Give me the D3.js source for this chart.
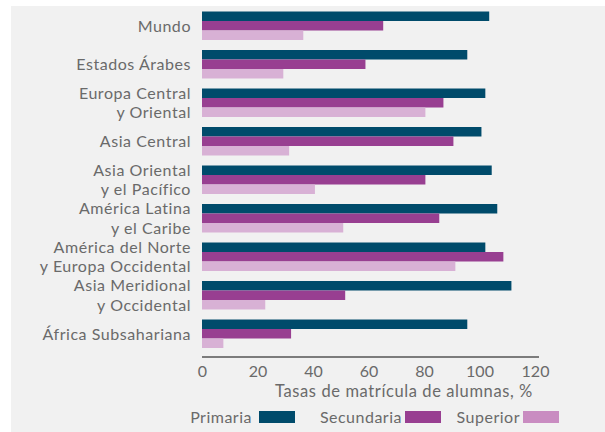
<!DOCTYPE html>
<html>
<head>
<meta charset="utf-8">
<script src="https://cdn.jsdelivr.net/npm/d3@7"></script>
<style>
  body { margin: 0; background: #fff; }
  text { font-family: Lato, "Open Sans", sans-serif; fill: #6a6a6a; }
</style>
</head>
<body>
<div id="chart"></div>
<script>
// regions, top to bottom (each label may wrap in two lines)
var regions = [
  ["Mundo"],
  ["Estados Árabes"],
  ["Europa Central", "y Oriental"],
  ["Asia Central"],
  ["Asia Oriental", "y el Pacífico"],
  ["América Latina", "y el Caribe"],
  ["América del Norte", "y Europa Occidental"],
  ["Asia Meridional", "y Occidental"],
  ["África Subsahariana"]
];
var primaria   = [103.5, 95.6, 102.1, 100.7, 104.4, 106.4, 102.1, 111.5, 95.6];
var secundaria = [65.3, 58.9, 87.0, 90.6, 80.5, 85.5, 108.6, 51.6, 32.1];
var superior   = [36.5, 29.3, 80.5, 31.4, 40.7, 50.9, 91.3, 22.8, 7.7];
var seriesNames = ["Primaria", "Secundaria", "Superior"];
var xTicks = [0, 20, 40, 60, 80, 100, 120];

var W = 605, H = 432;
var barColors = ["#004b6b", "#983f91", "#d8b1d5"];
var legendColors = ["#004b6b", "#983f91", "#c98cc1"];

var svg = d3.select("#chart").append("svg")
    .attr("width", W)
    .attr("height", H);

// grey panel
svg.append("rect")
    .attr("x", 11).attr("y", 6)
    .attr("width", W - 11).attr("height", H - 6)
    .attr("fill", "#f1f1f1");

var x = d3.scaleLinear().domain([0, 120]).range([202, 535]);
var y = d3.scaleBand()
    .domain(d3.range(regions.length))
    .range([6.5, 353])
    .paddingInner(0.26)
    .paddingOuter(0.13);
var ySub = d3.scaleBand()
    .domain(d3.range(3))
    .range([0, y.bandwidth()]);

var rows = regions.map(function(r, i) {
  return { label: r, vals: [primaria[i], secundaria[i], superior[i]] };
});

var g = svg.selectAll(".grp").data(rows).enter().append("g")
    .attr("class", "grp")
    .attr("transform", function(d, i) { return "translate(0," + y(i) + ")"; });

g.selectAll("rect").data(function(d) { return d.vals; }).enter().append("rect")
    .attr("x", x(0))
    .attr("y", function(d, j) { return ySub(j); })
    .attr("width", function(d) { return x(d) - x(0); })
    .attr("height", ySub.bandwidth())
    .attr("fill", function(d, j) { return barColors[j]; });

// category labels, one text per line
var lineH = 19.4;
g.each(function(d) {
  var grp = d3.select(this), n = d.label.length;
  d.label.forEach(function(line, k) {
    grp.append("text")
      .attr("text-anchor", "end")
      .attr("font-size", 16)
      .attr("letter-spacing", 0.55)
      .attr("x", 191)
      .attr("y", y.bandwidth() / 2 + (k - (n - 1) / 2) * lineH)
      .attr("dy", "0.36em")
      .text(line);
  });
});

// x axis
var axis = svg.append("g")
    .attr("transform", "translate(0,357)")
    .call(d3.axisBottom(x).tickValues(xTicks).tickSize(0).tickPadding(8.5));
axis.select(".domain").remove();
axis.selectAll("text")
    .attr("font-size", 16)
    .style("font-family", "Lato, sans-serif")
    .attr("fill", "#6a6a6a");
axis.append("line")
    .attr("x1", x(0)).attr("x2", x(120) + 4)
    .attr("stroke", "#555").attr("stroke-width", 1.5);

svg.append("text")
    .attr("x", 404).attr("y", 397)
    .attr("text-anchor", "middle")
    .attr("font-size", 16.5)
    .attr("letter-spacing", 0.6)
    .text("Tasas de matrícula de alumnas, %");

// legend
var legX = [252, 402, 520];
var leg = svg.selectAll(".leg").data(seriesNames).enter().append("g")
    .attr("class", "leg")
    .attr("transform", function(d, i) { return "translate(" + legX[i] + ",0)"; });
leg.append("text")
    .attr("x", 0).attr("y", 423)
    .attr("text-anchor", "end")
    .attr("font-size", 16)
    .attr("letter-spacing", 0.5)
    .text(function(d) { return d; });
leg.append("rect")
    .attr("x", function(d, i) { return i == 0 ? 7 : 3; })
    .attr("y", 411)
    .attr("width", 36).attr("height", 12)
    .attr("fill", function(d, i) { return legendColors[i]; });
</script>
</body>
</html>
